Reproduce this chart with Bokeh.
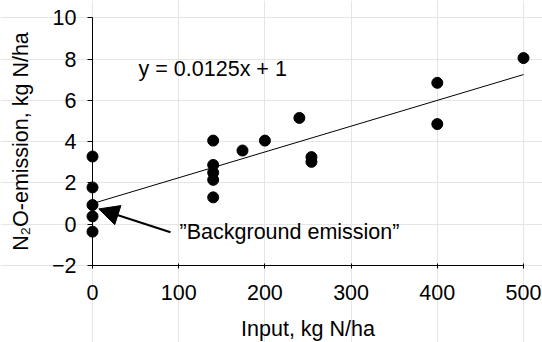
from bokeh.plotting import figure
from bokeh.models import LinearAxis, FixedTicker, Label, Arrow, NormalHead, Range1d
from bokeh.embed import file_html
from bokeh.resources import INLINE

# ---- data ----
input_n = [0, 0, 0, 0, 0, 140, 140, 140, 140, 140, 174, 200, 240, 254, 254, 400, 400, 500]
emission = [3.28, 1.78, 0.93, 0.38, -0.36, 4.05, 2.87, 2.5, 2.15, 1.3, 3.57, 4.05, 5.15, 3.25, 3.02, 6.85, 4.85, 8.05]
slope = 0.0125
intercept = 1.0
trend_x = [0, 500]
x_ticks = [0, 100, 200, 300, 400, 500]
y_ticks = [-2, 0, 2, 4, 6, 8, 10]
equation_text = "y = 0.0125x + 1"
note_text = "\u201dBackground emission\u201d"
x_label = "Input, kg N/ha"
y_label = "N\u2082O-emission, kg N/ha"

FONT = "Liberation Sans"
FS = "21.5px"

p = figure(width=542, height=342, output_backend="svg", toolbar_location=None,
           x_axis_location=None, y_axis_location=None,
           x_range=Range1d(-106.73, 522.04), y_range=Range1d(-5.731, 10.838),
           min_border_left=0, min_border_right=0, min_border_top=0, min_border_bottom=0)
p.outline_line_color = None
p.background_fill_color = "white"
p.border_fill_color = "white"

yaxis = LinearAxis(fixed_location=0, bounds=(-2, 10), ticker=FixedTicker(ticks=y_ticks),
                   axis_label=y_label)
xaxis = LinearAxis(fixed_location=-2, bounds=(0, 500), ticker=FixedTicker(ticks=x_ticks),
                   axis_label=x_label)
for ax in (xaxis, yaxis):
    ax.axis_line_color = "black"
    ax.axis_line_width = 1
    ax.major_tick_line_color = "black"
    ax.minor_tick_line_color = None
    ax.major_label_text_font = FONT
    ax.major_label_text_font_size = FS
    ax.major_label_text_color = "black"
    ax.axis_label_text_font = FONT
    ax.axis_label_text_font_size = FS
    ax.axis_label_text_font_style = "normal"
    ax.axis_label_text_color = "black"
yaxis.major_tick_in = 0
yaxis.major_tick_out = 5
yaxis.major_label_standoff = 11
yaxis.axis_label_standoff = 16
xaxis.major_tick_in = 2
xaxis.major_tick_out = 3
xaxis.major_label_standoff = 17
xaxis.axis_label_standoff = 13
p.add_layout(yaxis, "left")
p.add_layout(xaxis, "below")

trend_y = [slope * x + intercept for x in trend_x]
p.line(trend_x, trend_y, line_color="black", line_width=1)

p.scatter(input_n, emission, size=11, marker="circle", fill_color="black", line_color="black")

p.add_layout(Label(x=53.5, y=7.53, text=equation_text, text_font=FONT, text_font_size=FS,
                   text_color="black", text_baseline="alphabetic"))
p.add_layout(Label(x=101, y=-0.39, text=note_text, text_font=FONT, text_font_size=FS,
                   text_color="black", text_baseline="alphabetic"))
p.add_layout(Arrow(x_start=90.5, y_start=-0.39, x_end=7.3, y_end=0.74, line_width=2,
                   line_color="black",
                   end=NormalHead(size=20, fill_color="black", line_color="black")))

open("out.html", "w").write(file_html(p, INLINE))
